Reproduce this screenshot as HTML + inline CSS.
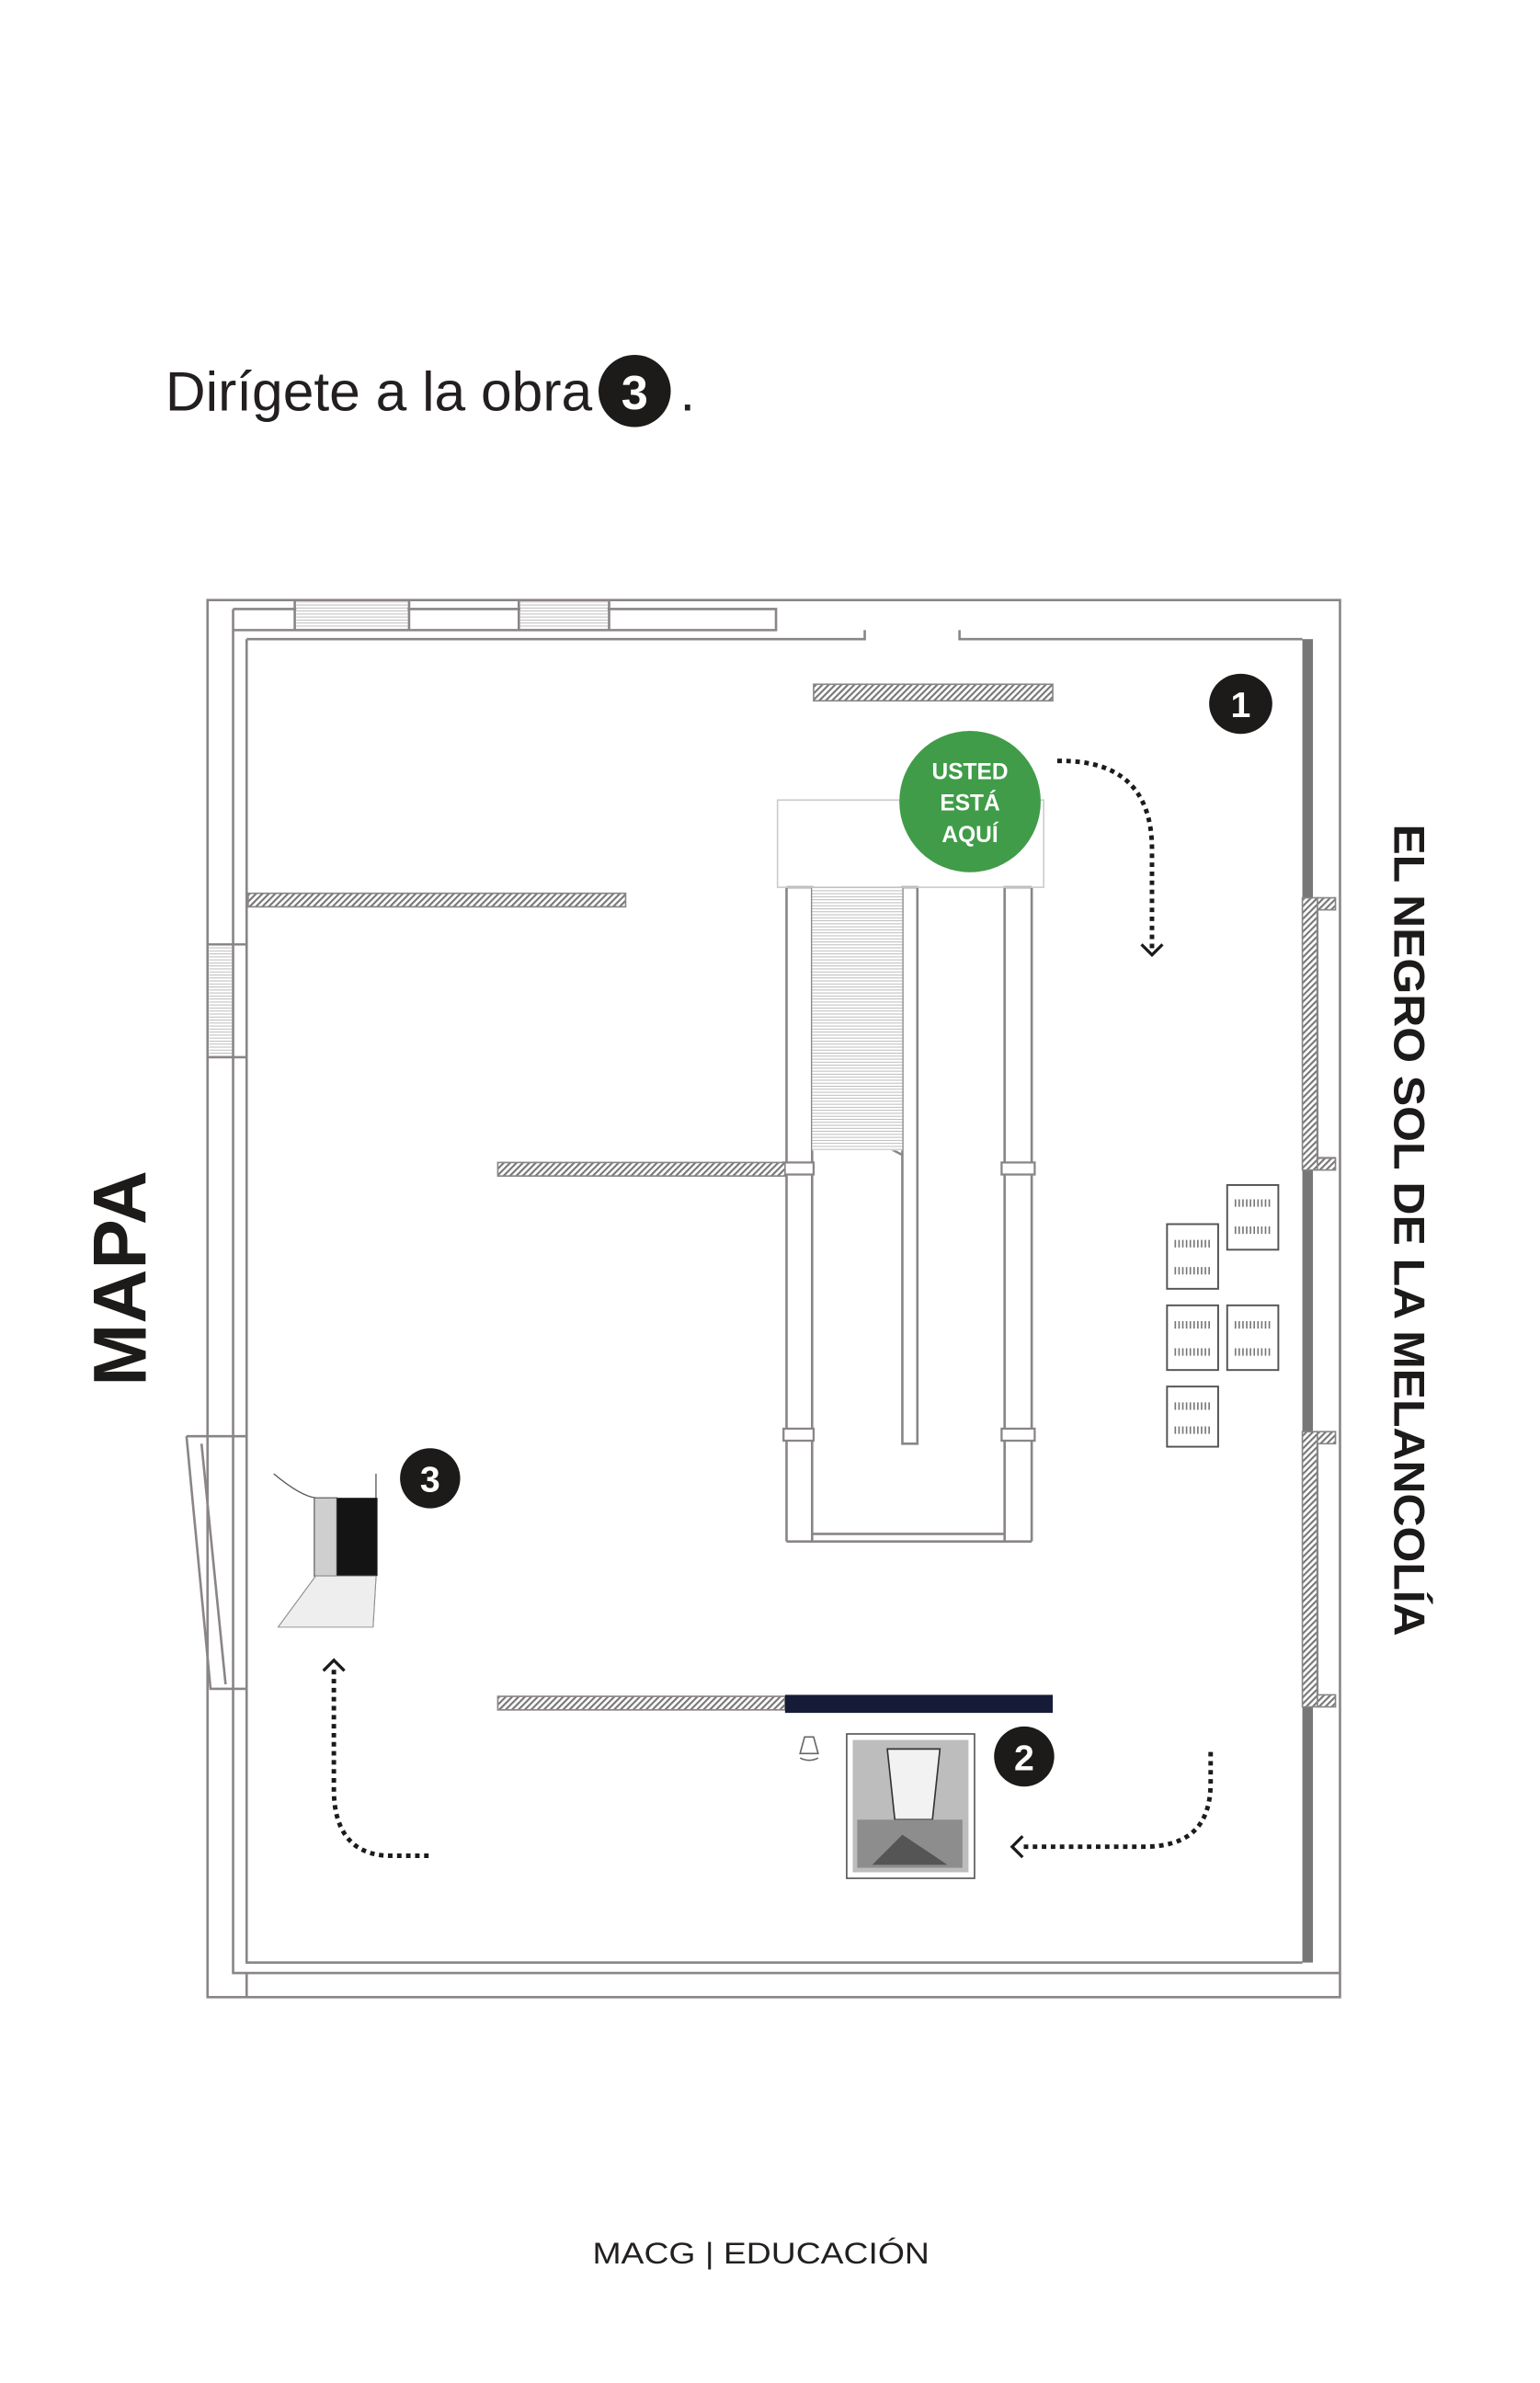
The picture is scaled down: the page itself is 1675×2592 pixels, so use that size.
<!DOCTYPE html>
<html><head><meta charset="utf-8"><style>
html,body{margin:0;padding:0;background:#fff;}
svg{display:block;}
</style></head><body>
<svg width="1675" height="2592" viewBox="0 0 1024 1584.6" xmlns="http://www.w3.org/2000/svg">
<defs>
<pattern id="h" width="3" height="3" patternUnits="userSpaceOnUse" patternTransform="rotate(45)">
<rect width="3" height="3" fill="#fff"/><rect width="1.3" height="3" fill="#777"/></pattern>
<pattern id="hl" width="3" height="2" patternUnits="userSpaceOnUse">
<rect width="3" height="2" fill="#fff"/><rect width="3" height="0.6" fill="#bbb"/></pattern>
</defs>
<g font-family="'Liberation Sans',sans-serif">
<text x="110" y="273" font-size="37" fill="#231f20">Dirígete a la obra</text>
<ellipse cx="422" cy="260" rx="24" ry="24" fill="#1d1a1a"/>
<text x="422" y="272" font-size="32" font-weight="bold" fill="#fff" text-anchor="middle">3</text>
<text x="452" y="273" font-size="37" fill="#231f20">.</text>

<text transform="translate(97,850) rotate(-90)" font-size="50" font-weight="bold" fill="#1d1a1a" text-anchor="middle">MAPA</text>
<text transform="translate(927,548) rotate(90)" font-size="29" font-weight="bold" fill="#1d1a1a" textLength="540" lengthAdjust="spacingAndGlyphs">EL NEGRO SOL DE LA MELANCOLÍA</text>
<text x="394" y="1505" font-size="20" fill="#231f20" textLength="224" lengthAdjust="spacingAndGlyphs">MACG | EDUCACIÓN</text>
</g>

<g fill="none" stroke="#8a8587" stroke-width="1.6">
<path d="M138 399 H891 V1328 H138 Z"/>
<path d="M155 405 V1312 H891"/>
<path d="M155 405 H516 V419 H155"/>
<path d="M164 425 H575 V419 M638 419 V425 H866"/>
<path d="M164 425 V1305 H866"/>
<path d="M196 399 V419 M272 399 V419 M345 399 V419 M405 399 V419"/>
<path d="M164 1312 V1328"/>
<path d="M138 628 H164 M138 703 H164"/>
<path d="M124 955 L140 1123 H164 M124 955 H164 M134 960 L150 1120"/>
<path d="M523 590 H540 V1025 M523 590 V1025 M686 590 H668 V1025 M686 590 V1025 M523 1025 H686 M540 1020 H668"/>
<path d="M600 590 H610 V960 H600 Z"/>
<path d="M541 737 L600 768 M565 760 L571 746"/>
</g>
<rect x="517" y="532" width="177" height="58" fill="none" stroke="#ccc" stroke-width="1"/>
<rect x="540" y="590" width="60" height="175" fill="url(#hl)"/>
<rect x="197" y="400" width="74" height="18" fill="url(#hl)"/>
<rect x="346" y="400" width="58" height="18" fill="url(#hl)"/>
<rect x="139" y="629" width="15" height="73" fill="url(#hl)"/>
<g fill="#fff" stroke="#8a8587" stroke-width="1.4">
<rect x="521" y="773" width="20" height="8"/><rect x="666" y="773" width="22" height="8"/>
<rect x="521" y="950" width="20" height="8"/><rect x="666" y="950" width="22" height="8"/>
</g>
<rect x="866" y="425" width="7" height="880" fill="#777"/>
<g fill="url(#h)" stroke="#8a8587" stroke-width="1">
<rect x="866" y="597" width="10" height="181"/>
<rect x="866" y="952" width="10" height="183"/>
<rect x="876" y="597" width="12" height="8"/><rect x="876" y="770" width="12" height="8"/>
<rect x="876" y="952" width="12" height="8"/><rect x="876" y="1127" width="12" height="8"/>
</g>
<path d="M876 605 V770 H888 M876 960 V1127" stroke="#8a8587" fill="none" stroke-width="1.4"/>
<g stroke="#8a8587" stroke-width="1" fill="url(#h)">
<rect x="541" y="455" width="159" height="11"/>
<rect x="165" y="594" width="251" height="9"/>
<rect x="331" y="773" width="191" height="9"/>
<rect x="331" y="1128" width="191" height="9"/>
</g>
<rect x="522" y="1127" width="178" height="12" fill="#161c38"/>
<circle cx="645" cy="533" r="47" fill="#409c48"/>
<g font-family="'Liberation Sans',sans-serif" font-weight="bold" font-size="15" fill="#fff" text-anchor="middle">
<text x="645" y="518">USTED</text><text x="645" y="539">ESTÁ</text><text x="645" y="560">AQUÍ</text>
</g>
<ellipse cx="825" cy="468" rx="21" ry="20" fill="#1d1a1a"/>
<ellipse cx="681" cy="1168" rx="20" ry="20" fill="#1d1a1a"/>
<ellipse cx="286" cy="983" rx="20" ry="20" fill="#1d1a1a"/>
<g font-family="'Liberation Sans',sans-serif" font-weight="bold" font-size="24" fill="#fff" text-anchor="middle">
<text x="825" y="477">1</text><text x="681" y="1177">2</text><text x="286" y="992">3</text>
</g>
<g fill="none" stroke="#1d1a1a" stroke-width="3" stroke-dasharray="3 3">
<path d="M703 506 C750 505 766 530 766 565 V632"/>
<path d="M805 1165 V1185 C805 1215 790 1228 760 1228 H680"/>
<path d="M285 1234 H260 C232 1234 222 1215 222 1190 V1108"/>
</g>
<g fill="none" stroke="#1d1a1a" stroke-width="2">
<path d="M759 628 L766 635 L773 628"/>
<path d="M680 1221 L673 1228 L680 1235"/>
<path d="M215 1111 L222 1104 L229 1111"/>
</g>
<g fill="#fff" stroke="#555" stroke-width="1.2">
<rect x="776" y="814" width="34" height="43"/><rect x="816" y="788" width="34" height="43"/>
<rect x="776" y="868" width="34" height="43"/><rect x="816" y="868" width="34" height="43"/>
<rect x="776" y="922" width="34" height="40"/>
</g>
<g stroke="#777" stroke-width="5" stroke-dasharray="1 1.5">
<path d="M781 827 H805 M781 845 H805 M821 800 H845 M821 818 H845 M781 881 H805 M781 899 H805 M821 881 H845 M821 899 H845 M781 935 H805 M781 951 H805"/>
</g>
<path d="M182 980 Q200 995 210 996 M250 980 V1000 M210 1048 L185 1082 M250 1048 L248 1082" stroke="#555" fill="none" stroke-width="0.8"/>
<rect x="209" y="996" width="15" height="52" fill="#cfcfcf" stroke="#666" stroke-width="0.8"/>
<rect x="224" y="996" width="27" height="52" fill="#141414"/>
<path d="M210 1048 L185 1082 H248 L250 1048 Z" fill="#eee" stroke="#999" stroke-width="0.6"/>
<rect x="563" y="1153" width="85" height="96" fill="#fff" stroke="#555" stroke-width="1"/>
<rect x="567" y="1157" width="77" height="88" fill="#bdbdbd"/>
<path d="M590 1163 H625 L620 1210 H595 Z" fill="#f2f2f2" stroke="#333" stroke-width="1"/>
<rect x="570" y="1210" width="70" height="32" fill="#8d8d8d"/>
<path d="M580 1240 L600 1220 L630 1240 Z" fill="#555"/>
<path d="M535 1155 H541 L544 1166 H532 Z M532 1169 Q538 1172 544 1169" fill="none" stroke="#666" stroke-width="1"/>
</svg>
</body></html>
